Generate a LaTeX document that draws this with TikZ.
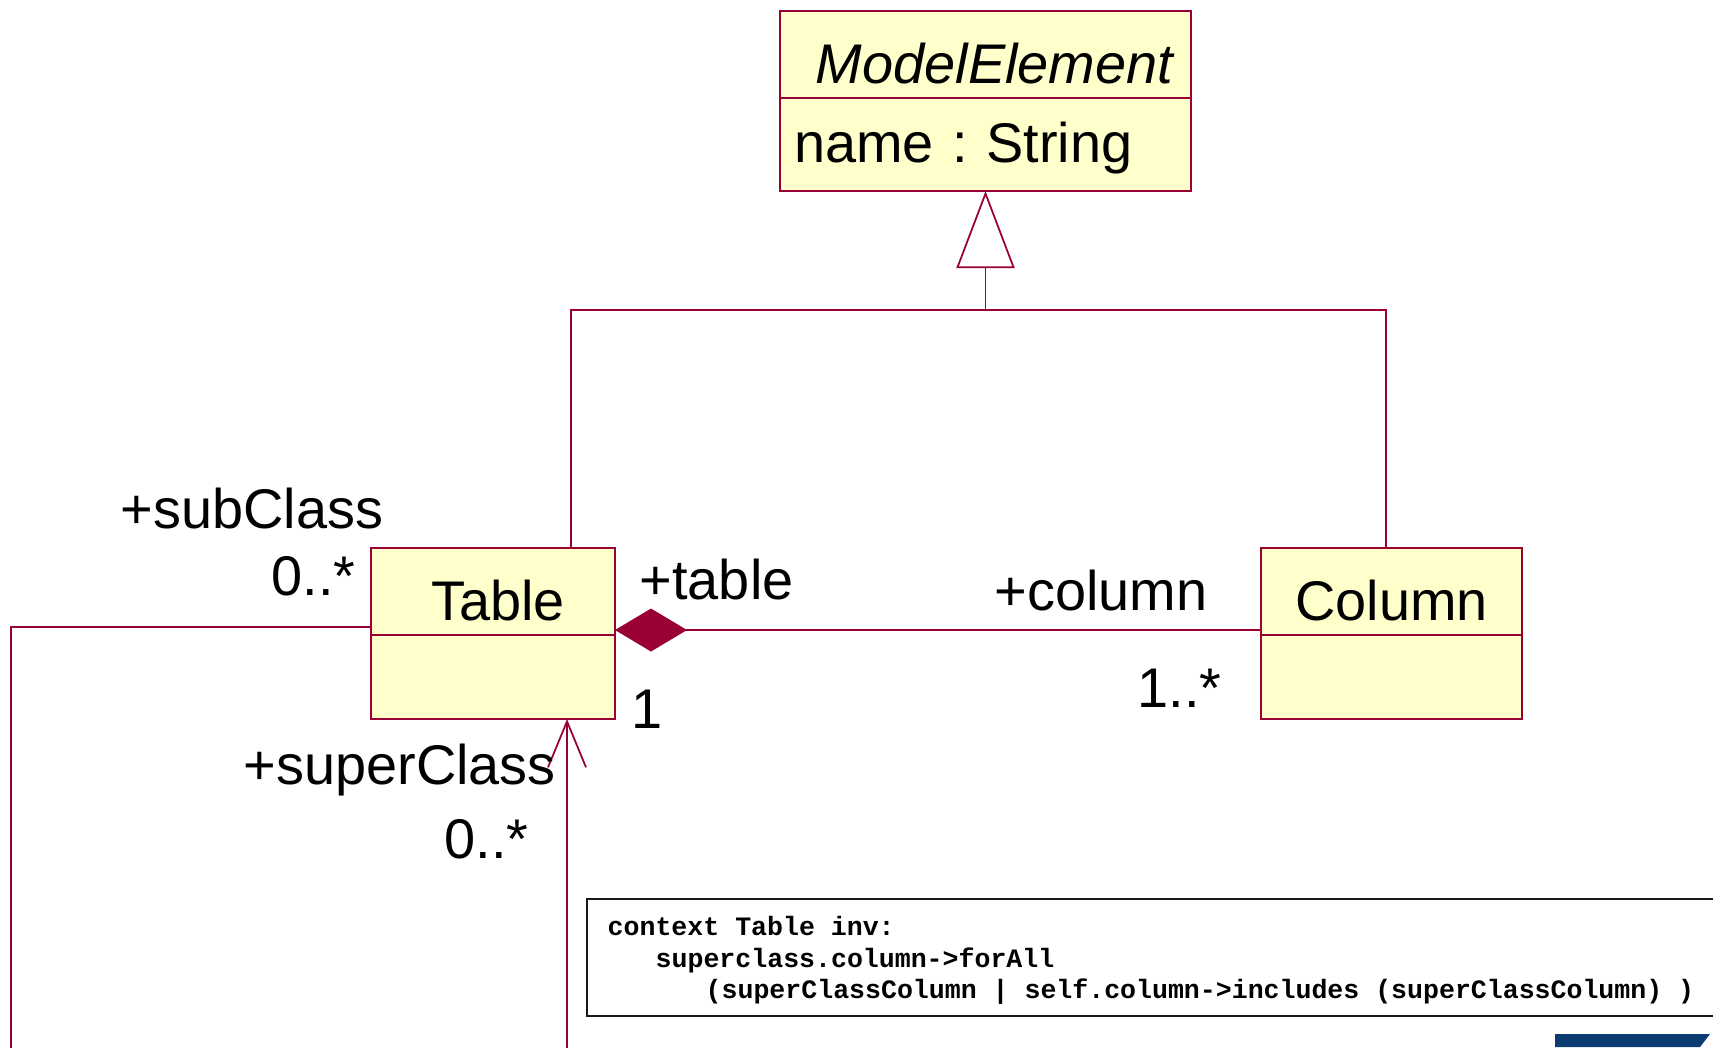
\documentclass[tikz,border=0pt]{standalone}
\usepackage{fontspec}
\setmainfont{Liberation Sans}
\newfontfamily\oclfont{Liberation Mono}
\usetikzlibrary{positioning, arrows.meta}
\definecolor{UMLRed}{HTML}{990033}
\definecolor{UMLYellow}{HTML}{FFFFCC}
\definecolor{LogoBlue}{HTML}{0B3B70}
\newcommand{\umlsize}{\fontsize{15.9pt}{19pt}\selectfont}
\newcommand{\oclsize}{\fontsize{7.56pt}{9.1pt}\selectfont}
\frenchspacing

\tikzset{
  classhead/.style={draw=UMLRed, fill=UMLYellow, line width=0.6pt, inner sep=0pt, outer sep=0pt,
    text height=0.57cm, text depth=0pt, font=\umlsize, minimum height=0.87cm},
  classbody/.style={draw=UMLRed, fill=UMLYellow, line width=0.6pt, inner sep=0pt, outer sep=0pt,
    minimum height=0.84cm},
  umlline/.style={draw=UMLRed, line width=0.5pt},
  role/.style={anchor=base west, inner sep=0pt, font=\umlsize},
  ocltext/.style={anchor=base west, inner sep=0pt, font=\oclfont\bfseries\oclsize},
}

\begin{document}
\begin{tikzpicture}
      \useasboundingbox (0,0) rectangle (17.13,-10.47);
      \clip (0,0) rectangle (17.13,-10.47);

      % --- Classes ---
      % ModelElement on top, Table and Column below it
      \node[classhead, minimum width=4.11cm] (mehead) at (9.855,-0.545)
            {\hspace*{0.2cm}\textit{ModelElement}};
      \node[classbody, minimum width=4.11cm, minimum height=0.93cm, text width=3.83cm,
            inner xsep=0.14cm, align=left, text height=0.35cm, text depth=0pt,
            font=\umlsize, below=0pt of mehead] (meattr) {name : String};

      \node[classhead, minimum width=2.44cm] (tablehead) at (4.93,-5.915) {\hspace*{0.1cm}Table};
      \node[classbody, minimum width=2.44cm, below=0pt of tablehead] (tablebody) {};

      \node[classhead, minimum width=2.61cm] (columnhead) at (13.915,-5.915) {Column};
      \node[classbody, minimum width=2.61cm, below=0pt of columnhead] (columnbody) {};

      % --- Generalization ---
      \coordinate (tableup) at (5.71,-3.10);
      \coordinate (columnup) at (13.86,-3.10);
      \coordinate (junction) at (meattr.south |- tableup);
      \draw[umlline] (tablehead.north -| tableup) -- (tableup) -- (columnup)
            -- (columnhead.north -| columnup);
      \draw[umlline, -{Triangle[open, length=7.7mm, width=5.8mm]}] (junction) -- (meattr.south);

      % --- Composition ---
      \coordinate (compY) at (0,-6.30);
      \draw[umlline, {Diamond[length=7.2mm, width=4.3mm]}-]
            (tablehead.east |- compY) -- (columnhead.west |- compY);

      % --- Self association ---
      % runs out of the picture at the bottom
      \coordinate (selfleft) at (0.11,-6.27);
      \coordinate (selfdown) at (0.11,-10.70);
      \coordinate (selfright) at (5.67,-10.70);
      \draw[umlline, -{Straight Barb[length=4.6mm, width=3.8mm]}]
            (tablehead.west |- selfleft) -- (selfleft) -- (selfdown) -- (selfright)
            -- (tablebody.south -| selfright);

      % --- Role names and multiplicities ---
      \node[role] (subrole) at (1.20,-5.28)      {+subClass};
      \node[role] (submult) at (2.71,-5.95)      {0..*};
      \node[role] (superrole) at (2.43,-7.84)    {+superClass};
      \node[role] (supermult) at (4.44,-8.58)    {0..*};
      \node[role] (tablerole) at (6.39,-5.99)    {+table};
      \node[role] (tablemult) at (6.31,-7.28)    {1};
      \node[role] (columnrole) at (9.94,-6.10)   {+column};
      \node[role] (columnmult) at (11.37,-7.07)  {1..*};

      % --- OCL constraint ---
      \node[draw=black!90, line width=0.8pt, minimum width=11.8cm, minimum height=1.17cm,
            inner sep=0pt] (oclbox) at (11.77,-9.575) {};
      \node[ocltext] (ocl1) at (6.07,-9.35)   {context Table inv:};
      \node[ocltext] (ocl2) at (6.55,-9.67)   {superclass.column->forAll};
      \node[ocltext] (ocl3) at (7.05,-9.985)  {(superClassColumn | self.column->includes (superClassColumn) )};

      % --- Logo fragment ---
      \fill[LogoBlue] (15.55,-10.34) -- (17.10,-10.34) -- (17.00,-10.47) -- (15.55,-10.47) -- cycle;
\end{tikzpicture}
\end{document}
